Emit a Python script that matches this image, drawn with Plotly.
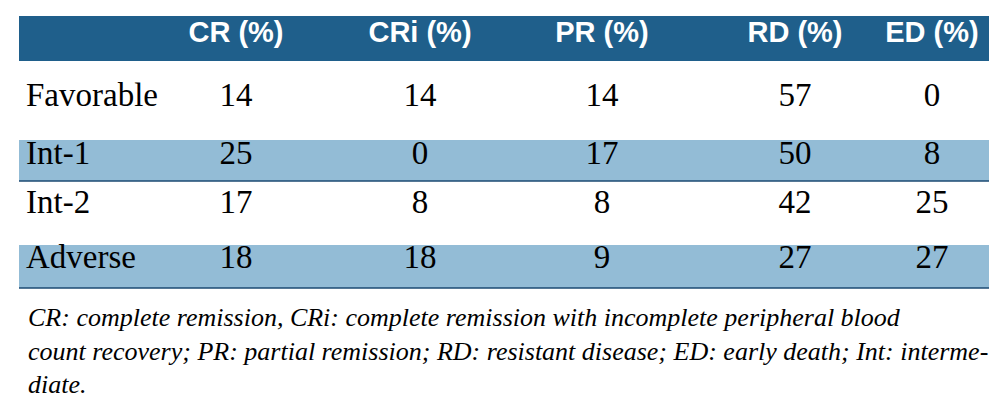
import plotly.graph_objects as go

# table contents
groups = ["Favorable", "Int-1", "Int-2", "Adverse"]
columns = ["CR (%)", "CRi (%)", "PR (%)", "RD (%)", "ED (%)"]
cr = [14, 25, 17, 18]
cri = [14, 0, 8, 18]
pr = [14, 17, 8, 9]
rd = [57, 50, 42, 27]
ed = [0, 8, 25, 27]
values = [cr, cri, pr, rd, ed]

footnote = [
    "CR: complete remission, CRi: complete remission with incomplete peripheral blood",
    "count recovery; PR: partial remission; RD: resistant disease; ED: early death; Int: interme-",
    "diate.",
]

# layout (pixel-like units on the axes)
W, H = 997, 412
left, right = 11, 985
label_x = 18
col_x = [228, 412, 594, 787, 924]
header_top, header_bottom = 8, 53
header_text_y = 27
row_top = [53, 132, 173, 237]
row_bottom = [132, 173, 237, 280]
row_y = [90, 148, 197, 252]
foot_y = [309, 343, 376]

header_blue = "#1f5f8b"
band_blue = "#93bcd6"
line_blue = "#1b4a72"
serif = "Liberation Serif, Times New Roman, serif"
sans = "Liberation Sans Narrow, Arial Narrow, Liberation Sans, sans-serif"

fig = go.Figure()

shapes = [dict(type="rect", xref="x", yref="y", x0=left, x1=right,
               y0=header_top, y1=header_bottom, fillcolor=header_blue,
               line=dict(width=0), layer="below")]
for i in range(len(groups)):
    if i % 2 == 1:
        shapes.append(dict(type="rect", xref="x", yref="y", x0=left, x1=right,
                           y0=row_top[i], y1=row_bottom[i], fillcolor=band_blue,
                           line=dict(width=0), layer="below"))
        shapes.append(dict(type="line", xref="x", yref="y", x0=left, x1=right,
                           y0=row_bottom[i], y1=row_bottom[i],
                           line=dict(color=line_blue, width=1.5)))

# header
fig.add_trace(go.Scatter(
    x=col_x, y=[header_text_y] * len(columns),
    text=columns, mode="text", textposition="middle center",
    textfont=dict(family=sans, size=29, color="white", weight="bold"),
    hoverinfo="skip", showlegend=False,
))

# row labels
fig.add_trace(go.Scatter(
    x=[label_x] * len(groups), y=row_y, text=groups, mode="text",
    textposition="middle right",
    textfont=dict(family=serif, size=33, color="black"),
    hoverinfo="skip", showlegend=False,
))

# cell values
for cx, col in zip(col_x, values):
    fig.add_trace(go.Scatter(
        x=[cx] * len(col), y=row_y, text=[str(v) for v in col], mode="text",
        textposition="middle center",
        textfont=dict(family=serif, size=33, color="black"),
        hoverinfo="skip", showlegend=False,
    ))

annotations = []
for line, fy in zip(footnote, foot_y):
    annotations.append(dict(
        x=label_x, y=fy, xref="x", yref="y", text=line, showarrow=False,
        xanchor="left", yanchor="middle",
        font=dict(family=serif, size=26, color="black", style="italic"),
    ))

fig.update_layout(
    width=W, height=H,
    margin=dict(l=0, r=0, t=0, b=0),
    paper_bgcolor="white", plot_bgcolor="white",
    xaxis=dict(range=[0, W], visible=False, fixedrange=True),
    yaxis=dict(range=[H, 0], visible=False, fixedrange=True),
    shapes=shapes, annotations=annotations,
)

fig.write_html("out.html")
